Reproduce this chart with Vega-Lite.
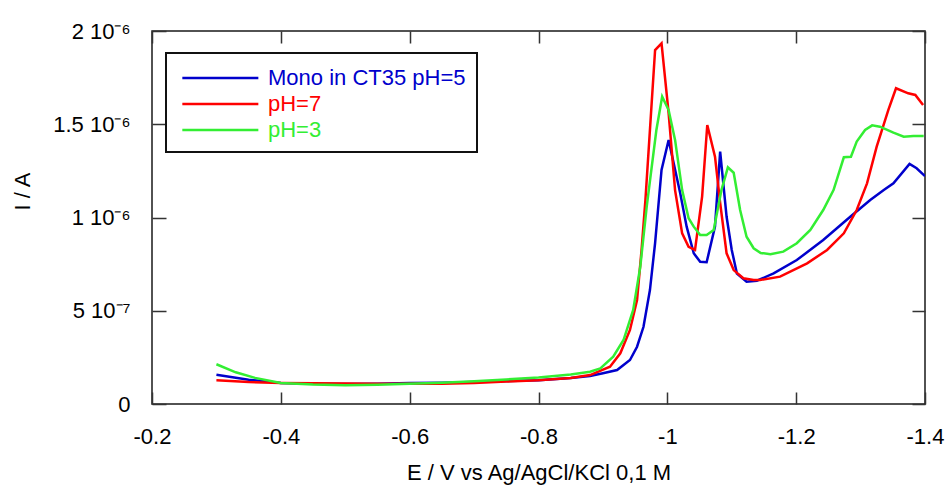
{
  "$schema": "https://vega.github.io/schema/vega-lite/v6.json",
  "width": 773,
  "height": 373,
  "autosize": "none",
  "padding": {"left": 152, "top": 31, "right": 22, "bottom": 82},
  "background": "white",
  "config": {
    "font": "Liberation Sans",
    "view": {"stroke": "#1a1a1a", "strokeWidth": 1.5},
    "axis": {
      "labelFont": "Liberation Sans",
      "titleFont": "Liberation Sans",
      "labelColor": "black",
      "titleColor": "black",
      "titleFontWeight": "normal",
      "domain": false,
      "ticks": false,
      "grid": true,
      "gridColor": "#333333",
      "gridWidth": 1.5,
      "gridOpacity": 1
    }
  },
  "data": {
    "values": [
      {"s": "Mono in CT35 pH=5", "E": -0.3, "I": 1.57e-7},
      {"s": "Mono in CT35 pH=5", "E": -0.35, "I": 1.30e-7},
      {"s": "Mono in CT35 pH=5", "E": -0.4, "I": 1.12e-7},
      {"s": "Mono in CT35 pH=5", "E": -0.45, "I": 1.08e-7},
      {"s": "Mono in CT35 pH=5", "E": -0.5, "I": 1.07e-7},
      {"s": "Mono in CT35 pH=5", "E": -0.55, "I": 1.08e-7},
      {"s": "Mono in CT35 pH=5", "E": -0.6, "I": 1.12e-7},
      {"s": "Mono in CT35 pH=5", "E": -0.65, "I": 1.14e-7},
      {"s": "Mono in CT35 pH=5", "E": -0.7, "I": 1.18e-7},
      {"s": "Mono in CT35 pH=5", "E": -0.75, "I": 1.23e-7},
      {"s": "Mono in CT35 pH=5", "E": -0.8, "I": 1.28e-7},
      {"s": "Mono in CT35 pH=5", "E": -0.85, "I": 1.40e-7},
      {"s": "Mono in CT35 pH=5", "E": -0.88, "I": 1.50e-7},
      {"s": "Mono in CT35 pH=5", "E": -0.9, "I": 1.65e-7},
      {"s": "Mono in CT35 pH=5", "E": -0.922, "I": 1.82e-7},
      {"s": "Mono in CT35 pH=5", "E": -0.942, "I": 2.36e-7},
      {"s": "Mono in CT35 pH=5", "E": -0.953, "I": 3.07e-7},
      {"s": "Mono in CT35 pH=5", "E": -0.963, "I": 4.14e-7},
      {"s": "Mono in CT35 pH=5", "E": -0.973, "I": 6.11e-7},
      {"s": "Mono in CT35 pH=5", "E": -0.981, "I": 8.63e-7},
      {"s": "Mono in CT35 pH=5", "E": -0.991, "I": 1.255e-6},
      {"s": "Mono in CT35 pH=5", "E": -1.002, "I": 1.416e-6},
      {"s": "Mono in CT35 pH=5", "E": -1.02, "I": 1.13e-6},
      {"s": "Mono in CT35 pH=5", "E": -1.03, "I": 9.51e-7},
      {"s": "Mono in CT35 pH=5", "E": -1.041, "I": 8.08e-7},
      {"s": "Mono in CT35 pH=5", "E": -1.051, "I": 7.63e-7},
      {"s": "Mono in CT35 pH=5", "E": -1.061, "I": 7.60e-7},
      {"s": "Mono in CT35 pH=5", "E": -1.074, "I": 9.51e-7},
      {"s": "Mono in CT35 pH=5", "E": -1.082, "I": 1.353e-6},
      {"s": "Mono in CT35 pH=5", "E": -1.092, "I": 1.004e-6},
      {"s": "Mono in CT35 pH=5", "E": -1.1, "I": 8.26e-7},
      {"s": "Mono in CT35 pH=5", "E": -1.108, "I": 7.00e-7},
      {"s": "Mono in CT35 pH=5", "E": -1.123, "I": 6.56e-7},
      {"s": "Mono in CT35 pH=5", "E": -1.139, "I": 6.61e-7},
      {"s": "Mono in CT35 pH=5", "E": -1.165, "I": 7.00e-7},
      {"s": "Mono in CT35 pH=5", "E": -1.201, "I": 7.72e-7},
      {"s": "Mono in CT35 pH=5", "E": -1.242, "I": 8.79e-7},
      {"s": "Mono in CT35 pH=5", "E": -1.284, "I": 1.004e-6},
      {"s": "Mono in CT35 pH=5", "E": -1.315, "I": 1.094e-6},
      {"s": "Mono in CT35 pH=5", "E": -1.336, "I": 1.147e-6},
      {"s": "Mono in CT35 pH=5", "E": -1.351, "I": 1.183e-6},
      {"s": "Mono in CT35 pH=5", "E": -1.376, "I": 1.287e-6},
      {"s": "Mono in CT35 pH=5", "E": -1.387, "I": 1.264e-6},
      {"s": "Mono in CT35 pH=5", "E": -1.4, "I": 1.222e-6},

      {"s": "pH=7", "E": -0.3, "I": 1.27e-7},
      {"s": "pH=7", "E": -0.35, "I": 1.18e-7},
      {"s": "pH=7", "E": -0.4, "I": 1.13e-7},
      {"s": "pH=7", "E": -0.45, "I": 1.11e-7},
      {"s": "pH=7", "E": -0.5, "I": 1.10e-7},
      {"s": "pH=7", "E": -0.55, "I": 1.09e-7},
      {"s": "pH=7", "E": -0.6, "I": 1.08e-7},
      {"s": "pH=7", "E": -0.65, "I": 1.09e-7},
      {"s": "pH=7", "E": -0.7, "I": 1.12e-7},
      {"s": "pH=7", "E": -0.75, "I": 1.20e-7},
      {"s": "pH=7", "E": -0.8, "I": 1.28e-7},
      {"s": "pH=7", "E": -0.85, "I": 1.40e-7},
      {"s": "pH=7", "E": -0.88, "I": 1.55e-7},
      {"s": "pH=7", "E": -0.911, "I": 2.00e-7},
      {"s": "pH=7", "E": -0.927, "I": 2.72e-7},
      {"s": "pH=7", "E": -0.942, "I": 3.97e-7},
      {"s": "pH=7", "E": -0.953, "I": 5.58e-7},
      {"s": "pH=7", "E": -0.96, "I": 8.26e-7},
      {"s": "pH=7", "E": -0.966, "I": 1.094e-6},
      {"s": "pH=7", "E": -0.981, "I": 1.898e-6},
      {"s": "pH=7", "E": -0.991, "I": 1.934e-6},
      {"s": "pH=7", "E": -1.002, "I": 1.559e-6},
      {"s": "pH=7", "E": -1.012, "I": 1.147e-6},
      {"s": "pH=7", "E": -1.023, "I": 9.15e-7},
      {"s": "pH=7", "E": -1.033, "I": 8.43e-7},
      {"s": "pH=7", "E": -1.043, "I": 8.26e-7},
      {"s": "pH=7", "E": -1.054, "I": 1.112e-6},
      {"s": "pH=7", "E": -1.062, "I": 1.496e-6},
      {"s": "pH=7", "E": -1.074, "I": 1.326e-6},
      {"s": "pH=7", "E": -1.082, "I": 1.078e-6},
      {"s": "pH=7", "E": -1.092, "I": 8.08e-7},
      {"s": "pH=7", "E": -1.103, "I": 7.18e-7},
      {"s": "pH=7", "E": -1.118, "I": 6.74e-7},
      {"s": "pH=7", "E": -1.134, "I": 6.65e-7},
      {"s": "pH=7", "E": -1.144, "I": 6.65e-7},
      {"s": "pH=7", "E": -1.175, "I": 6.83e-7},
      {"s": "pH=7", "E": -1.217, "I": 7.54e-7},
      {"s": "pH=7", "E": -1.248, "I": 8.26e-7},
      {"s": "pH=7", "E": -1.274, "I": 9.15e-7},
      {"s": "pH=7", "E": -1.294, "I": 1.04e-6},
      {"s": "pH=7", "E": -1.31, "I": 1.183e-6},
      {"s": "pH=7", "E": -1.325, "I": 1.38e-6},
      {"s": "pH=7", "E": -1.343, "I": 1.576e-6},
      {"s": "pH=7", "E": -1.355, "I": 1.693e-6},
      {"s": "pH=7", "E": -1.374, "I": 1.666e-6},
      {"s": "pH=7", "E": -1.385, "I": 1.657e-6},
      {"s": "pH=7", "E": -1.397, "I": 1.603e-6},

      {"s": "pH=3", "E": -0.3, "I": 2.13e-7},
      {"s": "pH=3", "E": -0.33, "I": 1.70e-7},
      {"s": "pH=3", "E": -0.36, "I": 1.40e-7},
      {"s": "pH=3", "E": -0.4, "I": 1.13e-7},
      {"s": "pH=3", "E": -0.45, "I": 1.04e-7},
      {"s": "pH=3", "E": -0.5, "I": 1.00e-7},
      {"s": "pH=3", "E": -0.55, "I": 1.03e-7},
      {"s": "pH=3", "E": -0.6, "I": 1.08e-7},
      {"s": "pH=3", "E": -0.65, "I": 1.14e-7},
      {"s": "pH=3", "E": -0.7, "I": 1.22e-7},
      {"s": "pH=3", "E": -0.75, "I": 1.32e-7},
      {"s": "pH=3", "E": -0.8, "I": 1.42e-7},
      {"s": "pH=3", "E": -0.85, "I": 1.58e-7},
      {"s": "pH=3", "E": -0.88, "I": 1.73e-7},
      {"s": "pH=3", "E": -0.896, "I": 1.91e-7},
      {"s": "pH=3", "E": -0.916, "I": 2.54e-7},
      {"s": "pH=3", "E": -0.932, "I": 3.43e-7},
      {"s": "pH=3", "E": -0.947, "I": 5.04e-7},
      {"s": "pH=3", "E": -0.958, "I": 7.36e-7},
      {"s": "pH=3", "E": -0.968, "I": 1.058e-6},
      {"s": "pH=3", "E": -0.983, "I": 1.469e-6},
      {"s": "pH=3", "E": -0.992, "I": 1.648e-6},
      {"s": "pH=3", "E": -1.002, "I": 1.576e-6},
      {"s": "pH=3", "E": -1.012, "I": 1.416e-6},
      {"s": "pH=3", "E": -1.023, "I": 1.147e-6},
      {"s": "pH=3", "E": -1.033, "I": 9.96e-7},
      {"s": "pH=3", "E": -1.041, "I": 9.51e-7},
      {"s": "pH=3", "E": -1.051, "I": 9.06e-7},
      {"s": "pH=3", "E": -1.061, "I": 9.06e-7},
      {"s": "pH=3", "E": -1.072, "I": 9.33e-7},
      {"s": "pH=3", "E": -1.084, "I": 1.147e-6},
      {"s": "pH=3", "E": -1.094, "I": 1.269e-6},
      {"s": "pH=3", "E": -1.103, "I": 1.24e-6},
      {"s": "pH=3", "E": -1.113, "I": 1.04e-6},
      {"s": "pH=3", "E": -1.123, "I": 8.97e-7},
      {"s": "pH=3", "E": -1.134, "I": 8.35e-7},
      {"s": "pH=3", "E": -1.145, "I": 8.10e-7},
      {"s": "pH=3", "E": -1.16, "I": 8.03e-7},
      {"s": "pH=3", "E": -1.18, "I": 8.17e-7},
      {"s": "pH=3", "E": -1.201, "I": 8.62e-7},
      {"s": "pH=3", "E": -1.222, "I": 9.33e-7},
      {"s": "pH=3", "E": -1.242, "I": 1.04e-6},
      {"s": "pH=3", "E": -1.258, "I": 1.147e-6},
      {"s": "pH=3", "E": -1.274, "I": 1.323e-6},
      {"s": "pH=3", "E": -1.285, "I": 1.326e-6},
      {"s": "pH=3", "E": -1.294, "I": 1.407e-6},
      {"s": "pH=3", "E": -1.307, "I": 1.469e-6},
      {"s": "pH=3", "E": -1.318, "I": 1.494e-6},
      {"s": "pH=3", "E": -1.33, "I": 1.487e-6},
      {"s": "pH=3", "E": -1.351, "I": 1.455e-6},
      {"s": "pH=3", "E": -1.367, "I": 1.433e-6},
      {"s": "pH=3", "E": -1.382, "I": 1.437e-6},
      {"s": "pH=3", "E": -1.398, "I": 1.437e-6}
    ]
  },
  "mark": {"type": "line", "strokeWidth": 2.5, "clip": true},
  "encoding": {
    "x": {
      "field": "E", "type": "quantitative",
      "scale": {"domain": [-0.2, -1.4], "nice": false, "zero": false},
      "axis": {
        "orient": "bottom",
        "gridDash": [12, 349, 12, 2000],
        "values": [-0.2, -0.4, -0.6, -0.8, -1, -1.2, -1.4],
        "labelExpr": "'' + datum.value",
        "labelPadding": 32,
        "labelBaseline": "middle",
        "labelFontSize": 22,
        "labelFlush": false,
        "labelOverlap": false,
        "title": "E / V vs Ag/AgCl/KCl 0,1 M",
        "titleFontSize": 22,
        "titleBaseline": "middle",
        "titleY": 68
      }
    },
    "y": {
      "field": "I", "type": "quantitative",
      "scale": {"domain": [0, 2e-6], "nice": false, "zero": false},
      "axis": {
        "orient": "left",
        "gridDash": [14, 746, 13, 2000],
        "values": [0, 5e-7, 1e-6, 1.5e-6, 2e-6],
        "labelExpr": "datum.value == 0 ? '0' : datum.value < 9e-7 ? '5 10⁻⁷' : datum.value < 1.2e-6 ? '1 10⁻⁶' : datum.value < 1.7e-6 ? '1.5 10⁻⁶' : '2 10⁻⁶'",
        "labelPadding": 22,
        "labelFontSize": 22,
        "labelFlush": false,
        "labelOverlap": false,
        "title": "I / A",
        "titleFontSize": 22,
        "titleAngle": 270,
        "titleBaseline": "middle",
        "titleAlign": "center",
        "titleX": -130,
        "titleY": 160
      }
    },
    "color": {
      "field": "s", "type": "nominal",
      "scale": {"domain": ["Mono in CT35 pH=5", "pH=7", "pH=3"], "range": ["#0000CC", "#FF0000", "#33EE33"]},
      "legend": {
        "title": null,
        "orient": "none",
        "legendX": 14,
        "legendY": 22,
        "fillColor": "white",
        "strokeColor": "#111111",
        "padding": 11,
        "symbolType": "M-1,0H5",
        "symbolSize": 642,
        "symbolStrokeWidth": 2.5,
        "symbolOffset": 4,
        "labelOffset": 59,
        "labelFontSize": 22,
        "labelFont": "Liberation Sans",
        "labelLimit": 500,
        "rowPadding": 1,
        "zindex": 2,
        "encode": {
          "labels": {"update": {"fill": {"scale": "color", "field": "value"}}},
          "legend": {"update": {"strokeWidth": {"value": 2}}}
        }
      }
    }
  }
}
